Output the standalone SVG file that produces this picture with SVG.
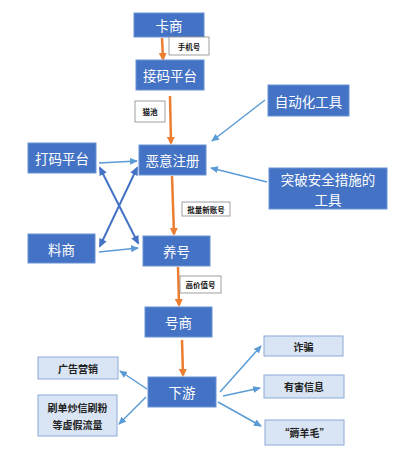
<svg xmlns="http://www.w3.org/2000/svg" width="400" height="452" viewBox="0 0 400 452">
<style>
.n rect{fill:#4472C4;stroke:#6A92D4;stroke-width:1}
.n text{fill:#fff;font-family:"Noto Sans CJK SC","Noto Sans",sans-serif;font-size:13.5px;text-anchor:middle;dominant-baseline:central}
.l rect{fill:#D9E5F4;stroke:#8AAAD6;stroke-width:1}
.l text{fill:#222;font-family:"Noto Sans CJK SC","Noto Sans",sans-serif;font-size:10px;font-weight:bold;text-anchor:middle;dominant-baseline:central}
.t rect{fill:#fff;stroke:#888;stroke-width:0.8}
.t text{fill:#111;font-family:"Noto Sans CJK SC","Noto Sans",sans-serif;font-size:7.5px;font-weight:bold;text-anchor:middle;dominant-baseline:central}
.o{stroke:#ED7D31;stroke-width:2.5;fill:none;marker-end:url(#ao)}
.b{stroke:#5B9BD5;stroke-width:1.5;fill:none;marker-end:url(#ab)}
.d{stroke:#4472C4;stroke-width:2;fill:none;marker-end:url(#ad);marker-start:url(#ads)}
</style>
<defs>
<marker id="ao" markerWidth="8" markerHeight="8" refX="6" refY="4" orient="auto" markerUnits="userSpaceOnUse"><path d="M0,0 L8,4 L0,8 Z" fill="#ED7D31"/></marker>
<marker id="ab" markerWidth="8" markerHeight="8" refX="7" refY="4" orient="auto" markerUnits="userSpaceOnUse"><path d="M0,0.5 L8,4 L0,7.5 Z" fill="#5B9BD5"/></marker>
<marker id="ad" markerWidth="9" markerHeight="9" refX="7" refY="4.5" orient="auto" markerUnits="userSpaceOnUse"><path d="M0,0.5 L9,4.5 L0,8.5 Z" fill="#4472C4"/></marker>
<marker id="ads" markerWidth="9" markerHeight="9" refX="2" refY="4.5" orient="auto" markerUnits="userSpaceOnUse"><path d="M9,0.5 L0,4.5 L9,8.5 Z" fill="#4472C4"/></marker>
</defs>
<g id="connectors">
<line class="o" x1="162" y1="38" x2="163" y2="59"/>
<line class="o" x1="170" y1="96" x2="171" y2="143"/>
<line class="o" x1="172" y1="176" x2="174" y2="234"/>
<line class="o" x1="178" y1="267" x2="179" y2="305"/>
<line class="o" x1="182" y1="340" x2="183" y2="375"/>
<line class="b" x1="265" y1="100" x2="212" y2="141"/>
<line class="b" x1="267" y1="182" x2="211" y2="168"/>
<line class="b" x1="99" y1="163" x2="137" y2="161"/>
<line class="b" x1="99" y1="252" x2="138" y2="248"/>
<line class="d" x1="100" y1="168" x2="138" y2="243"/>
<line class="d" x1="100" y1="246" x2="137" y2="168"/>
<line class="b" x1="147" y1="389" x2="120" y2="371"/>
<line class="b" x1="146" y1="397" x2="119" y2="424"/>
<line class="b" x1="220" y1="392" x2="261" y2="346"/>
<line class="b" x1="223" y1="396" x2="260" y2="388"/>
<line class="b" x1="218" y1="402" x2="261" y2="426"/>
</g>
<g id="kashang" class="n"><rect x="134" y="13" width="70" height="24"/><text x="169" y="25">卡商</text></g>
<g id="label-shoujihao" class="t"><rect x="169" y="37" width="40" height="18"/><text x="189" y="46">手机号</text></g>
<g id="jiema" class="n"><rect x="136" y="60" width="68" height="30"/><text x="170" y="75">接码平台</text></g>
<g id="label-maochi" class="t"><rect x="135" y="101" width="30" height="21"/><text x="150" y="111.5">猫池</text></g>
<g id="zidonghua" class="n"><rect x="268" y="85" width="81" height="31"/><text x="308.5" y="100.5">自动化工具</text></g>
<g id="eyizhuce" class="n"><rect x="139" y="145" width="67" height="30"/><text x="172.5" y="160">恶意注册</text></g>
<g id="dama" class="n"><rect x="28" y="143" width="68" height="30"/><text x="62" y="158">打码平台</text></g>
<g id="tupo" class="n"><rect x="269" y="168" width="118" height="41"/><text x="328" y="179" font-size="13px">突破安全措施的</text><text x="328" y="198.5" font-size="13px">工具</text></g>
<g id="label-piliang" class="t"><rect x="182" y="202" width="48" height="14"/><text x="206" y="209">批量新账号</text></g>
<g id="liaoshang" class="n"><rect x="28" y="234" width="67" height="29"/><text x="61.5" y="248.5">料商</text></g>
<g id="yanghao" class="n"><rect x="143" y="236" width="67" height="30"/><text x="176.5" y="251">养号</text></g>
<g id="label-gaojiazhi" class="t"><rect x="180" y="276" width="41" height="17"/><text x="200.5" y="284.5">高价值号</text></g>
<g id="haoshang" class="n"><rect x="145" y="307" width="67" height="30"/><text x="178.5" y="322">号商</text></g>
<g id="xiayou" class="n"><rect x="148" y="377" width="68" height="30"/><text x="182" y="392">下游</text></g>
<g id="guanggao" class="l"><rect x="38" y="357" width="80" height="22"/><text x="78" y="368">广告营销</text></g>
<g id="shuadan" class="l"><rect x="38" y="395" width="79" height="41"/><text x="77.5" y="407.5">刷单炒信刷粉</text><text x="77.5" y="424.5">等虚假流量</text></g>
<g id="zhapian" class="l"><rect x="264" y="336" width="79" height="20"/><text x="303.5" y="346">诈骗</text></g>
<g id="youhai" class="l"><rect x="264" y="375" width="80" height="23"/><text x="304" y="386.5">有害信息</text></g>
<g id="haoyangmao" class="l"><rect x="265" y="420" width="79" height="25"/><text x="304.5" y="432.5">“薅羊毛”</text></g>
</svg>
